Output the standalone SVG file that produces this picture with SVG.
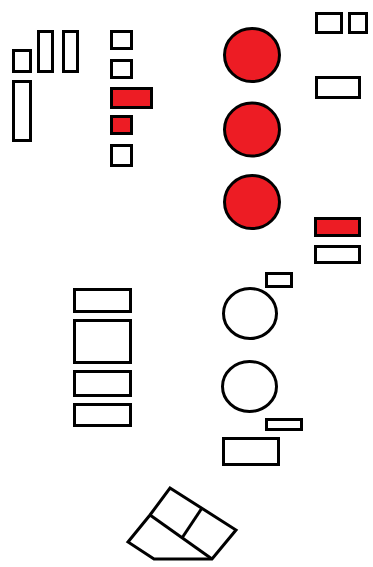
<svg xmlns="http://www.w3.org/2000/svg" width="373" height="567" viewBox="0 0 373 567">
<style>
.w{fill:#ffffff;stroke:#000000;stroke-width:3}
.r{fill:#ed1c24;stroke:#000000;stroke-width:3}
.l{fill:none;stroke:#000000;stroke-width:3;stroke-linejoin:miter}
</style>
<rect width="373" height="567" fill="#ffffff"/>
<g id="left-cluster">
<rect class="w" x="13.5" y="50.5" width="17" height="21"/>
<rect class="w" x="38.5" y="31.5" width="14" height="40"/>
<rect class="w" x="63.5" y="31.5" width="14" height="40"/>
<rect class="w" x="13.5" y="81.5" width="17" height="59"/>
</g>
<g id="column-two">
<rect class="w" x="111.5" y="31.5" width="20" height="17"/>
<rect class="w" x="111.5" y="60.5" width="20" height="17"/>
<rect class="r" x="111.5" y="88.5" width="40" height="19"/>
<rect class="r" x="111.5" y="116.5" width="20" height="17"/>
<rect class="w" x="111.5" y="145.5" width="20" height="20"/>
</g>
<g id="red-circles">
<ellipse class="r" cx="252" cy="55" rx="27.5" ry="26.5"/>
<ellipse class="r" cx="252" cy="129.5" rx="27.5" ry="26.5"/>
<ellipse class="r" cx="252" cy="202" rx="27.5" ry="26.5"/>
</g>
<g id="right-top">
<rect class="w" x="316.5" y="13.5" width="25" height="19"/>
<rect class="w" x="349.5" y="13.5" width="17" height="19"/>
<rect class="w" x="316.5" y="77.5" width="43" height="20"/>
</g>
<g id="right-mid">
<rect class="r" x="315.5" y="218.5" width="44" height="17"/>
<rect class="w" x="315.5" y="246.5" width="44" height="16"/>
</g>
<g id="left-stack">
<rect class="w" x="74.5" y="289.5" width="56" height="22"/>
<rect class="w" x="74.5" y="320.5" width="56" height="42"/>
<rect class="w" x="74.5" y="371.5" width="56" height="24"/>
<rect class="w" x="74.5" y="404.5" width="56" height="21"/>
</g>
<g id="open-circles">
<rect class="w" x="266.5" y="273.5" width="25" height="13"/>
<ellipse class="w" cx="250" cy="313.5" rx="26.5" ry="25"/>
<ellipse class="w" cx="249.5" cy="386.5" rx="27" ry="25"/>
<rect class="w" x="266.5" y="419.5" width="35" height="10"/>
<rect class="w" x="223.5" y="438.5" width="55" height="26"/>
</g>
<g id="tilted-shape">
<polygon class="l" points="170,488 236,530 212,559 154,559 128,542 150,515"/>
<line class="l" x1="150" y1="515" x2="212" y2="559"/>
<line class="l" x1="202" y1="508" x2="182" y2="538"/>
</g>
<g id="connectors"></g>
</svg>
